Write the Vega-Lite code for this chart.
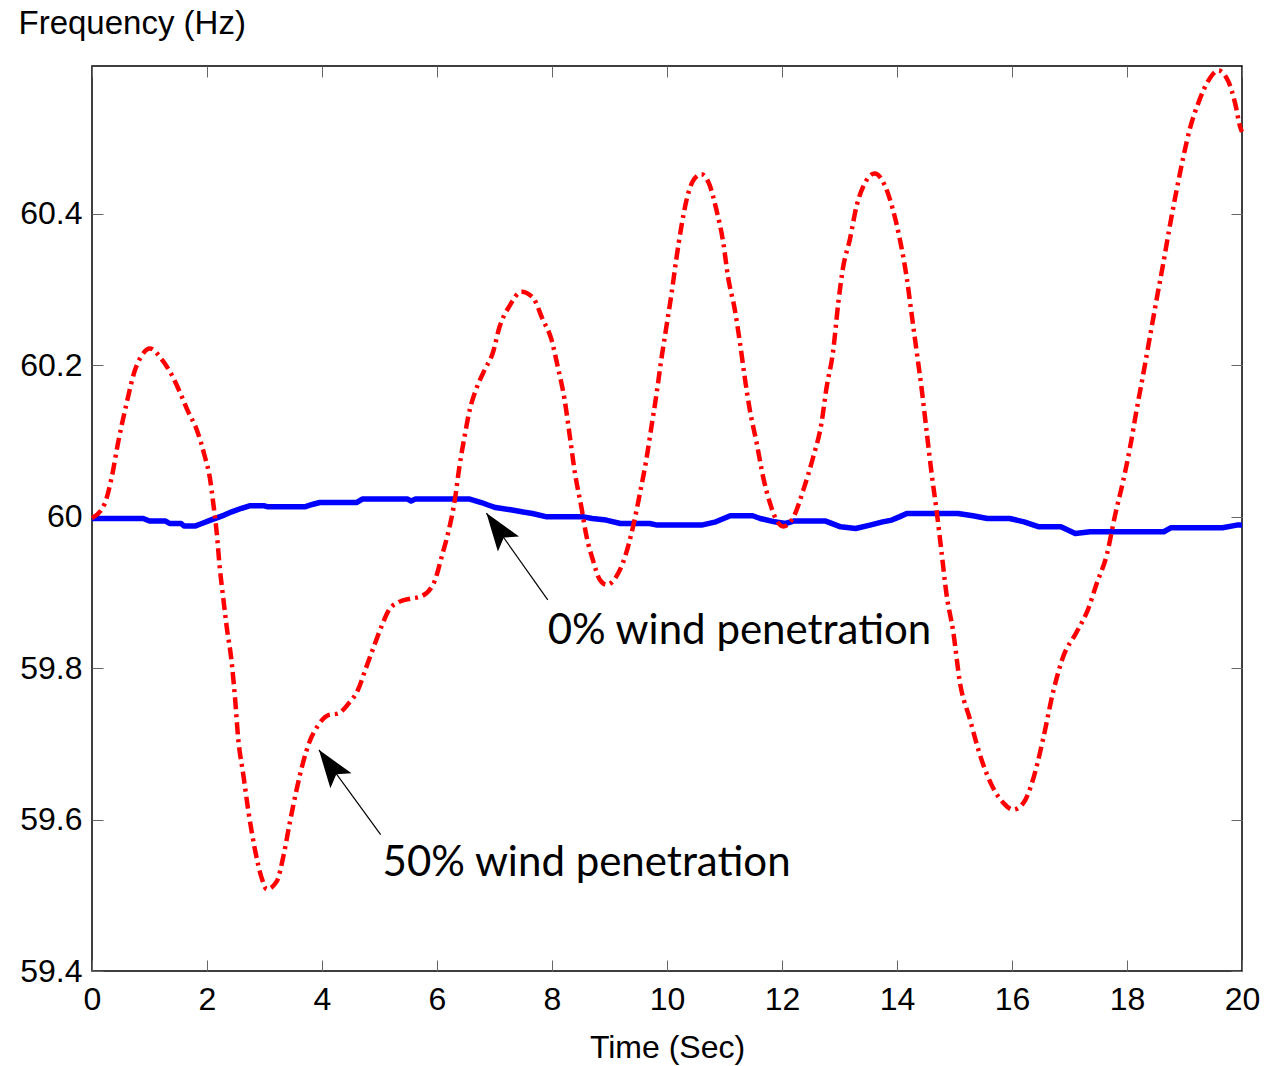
{
  "$schema": "https://vega.github.io/schema/vega-lite/v6.json",
  "width": 1150,
  "height": 905,
  "autosize": {"type": "none"},
  "padding": {"left": 92, "top": 66, "right": 23, "bottom": 95},
  "background": "#ffffff",
  "datasets": {
    "blue": [
      {"t": 0, "v": 59.9975}, {"t": 0.89, "v": 59.9975}, {"t": 1.0, "v": 59.9941}, {"t": 1.28, "v": 59.9941},
      {"t": 1.35, "v": 59.9909}, {"t": 1.55, "v": 59.9909}, {"t": 1.6, "v": 59.9875}, {"t": 1.79, "v": 59.9875},
      {"t": 1.91, "v": 59.9909}, {"t": 2.05, "v": 59.995}, {"t": 2.17, "v": 59.9984}, {"t": 2.3, "v": 60.002},
      {"t": 2.43, "v": 60.0063}, {"t": 2.6, "v": 60.011}, {"t": 2.74, "v": 60.0143}, {"t": 3.0, "v": 60.0143},
      {"t": 3.06, "v": 60.0129}, {"t": 3.7, "v": 60.0129}, {"t": 3.83, "v": 60.016}, {"t": 3.96, "v": 60.0186},
      {"t": 4.6, "v": 60.0186}, {"t": 4.7, "v": 60.0231}, {"t": 5.49, "v": 60.0231}, {"t": 5.55, "v": 60.0205},
      {"t": 5.62, "v": 60.0231}, {"t": 6.57, "v": 60.0231}, {"t": 6.77, "v": 60.0186}, {"t": 6.9, "v": 60.015},
      {"t": 7.02, "v": 60.012}, {"t": 7.28, "v": 60.009}, {"t": 7.5, "v": 60.006}, {"t": 7.66, "v": 60.0041},
      {"t": 7.91, "v": 59.9997}, {"t": 8.55, "v": 59.9997}, {"t": 8.7, "v": 59.9975}, {"t": 8.94, "v": 59.9954},
      {"t": 9.19, "v": 59.9909}, {"t": 9.7, "v": 59.9909}, {"t": 9.83, "v": 59.9888}, {"t": 10.6, "v": 59.9888},
      {"t": 10.85, "v": 59.9931}, {"t": 11.1, "v": 60.0011}, {"t": 11.49, "v": 60.0011}, {"t": 11.62, "v": 59.9975},
      {"t": 11.87, "v": 59.9931}, {"t": 12.06, "v": 59.9909}, {"t": 12.2, "v": 59.9941}, {"t": 12.76, "v": 59.9941},
      {"t": 13.02, "v": 59.9865}, {"t": 13.28, "v": 59.9843}, {"t": 13.53, "v": 59.9888}, {"t": 13.75, "v": 59.993},
      {"t": 13.91, "v": 59.9954}, {"t": 14.05, "v": 60.0}, {"t": 14.17, "v": 60.0041}, {"t": 15.06, "v": 60.0041},
      {"t": 15.32, "v": 60.0011}, {"t": 15.57, "v": 59.9975}, {"t": 15.96, "v": 59.9975}, {"t": 16.21, "v": 59.9931},
      {"t": 16.47, "v": 59.9865}, {"t": 16.85, "v": 59.9865}, {"t": 17.1, "v": 59.9777}, {"t": 17.36, "v": 59.98},
      {"t": 18.64, "v": 59.98}, {"t": 18.76, "v": 59.9852}, {"t": 19.66, "v": 59.9852}, {"t": 19.91, "v": 59.9888},
      {"t": 20, "v": 59.9888}
    ],
    "red": [
      {"t": 0, "v": 59.998}, {"t": 0.22, "v": 60.017}, {"t": 0.34, "v": 60.051}, {"t": 0.46, "v": 60.1},
      {"t": 0.6, "v": 60.149}, {"t": 0.745, "v": 60.193}, {"t": 0.86, "v": 60.212}, {"t": 1.006, "v": 60.222},
      {"t": 1.21, "v": 60.208}, {"t": 1.38, "v": 60.188}, {"t": 1.53, "v": 60.164}, {"t": 1.67, "v": 60.139},
      {"t": 1.82, "v": 60.115}, {"t": 1.96, "v": 60.08}, {"t": 2.05, "v": 60.051}, {"t": 2.11, "v": 60.017},
      {"t": 2.17, "v": 59.978}, {"t": 2.22, "v": 59.934}, {"t": 2.28, "v": 59.894}, {"t": 2.34, "v": 59.856},
      {"t": 2.43, "v": 59.807}, {"t": 2.49, "v": 59.758}, {"t": 2.54, "v": 59.709}, {"t": 2.63, "v": 59.66},
      {"t": 2.72, "v": 59.611}, {"t": 2.83, "v": 59.562}, {"t": 2.95, "v": 59.523}, {"t": 3.04, "v": 59.508},
      {"t": 3.21, "v": 59.518}, {"t": 3.33, "v": 59.552}, {"t": 3.44, "v": 59.596}, {"t": 3.56, "v": 59.64},
      {"t": 3.67, "v": 59.675}, {"t": 3.79, "v": 59.704}, {"t": 3.93, "v": 59.724}, {"t": 4.11, "v": 59.738},
      {"t": 4.28, "v": 59.74}, {"t": 4.46, "v": 59.753}, {"t": 4.63, "v": 59.772}, {"t": 4.75, "v": 59.797},
      {"t": 4.89, "v": 59.826}, {"t": 5.04, "v": 59.856}, {"t": 5.15, "v": 59.875}, {"t": 5.33, "v": 59.887},
      {"t": 5.56, "v": 59.892}, {"t": 5.7, "v": 59.894}, {"t": 5.93, "v": 59.91}, {"t": 6.1, "v": 59.952},
      {"t": 6.22, "v": 59.987}, {"t": 6.31, "v": 60.022}, {"t": 6.39, "v": 60.066}, {"t": 6.48, "v": 60.106},
      {"t": 6.57, "v": 60.141}, {"t": 6.68, "v": 60.168}, {"t": 6.83, "v": 60.194}, {"t": 6.97, "v": 60.216},
      {"t": 7.09, "v": 60.251}, {"t": 7.26, "v": 60.278}, {"t": 7.47, "v": 60.297}, {"t": 7.67, "v": 60.289},
      {"t": 7.84, "v": 60.26}, {"t": 7.99, "v": 60.234}, {"t": 8.1, "v": 60.198}, {"t": 8.22, "v": 60.154},
      {"t": 8.31, "v": 60.106}, {"t": 8.4, "v": 60.057}, {"t": 8.51, "v": 60.013}, {"t": 8.6, "v": 59.974},
      {"t": 8.71, "v": 59.943}, {"t": 8.83, "v": 59.917}, {"t": 8.95, "v": 59.91}, {"t": 9.12, "v": 59.921},
      {"t": 9.27, "v": 59.947}, {"t": 9.41, "v": 59.987}, {"t": 9.53, "v": 60.031}, {"t": 9.64, "v": 60.075},
      {"t": 9.73, "v": 60.119}, {"t": 9.82, "v": 60.163}, {"t": 9.9, "v": 60.207}, {"t": 9.99, "v": 60.251},
      {"t": 10.08, "v": 60.295}, {"t": 10.16, "v": 60.339}, {"t": 10.25, "v": 60.383}, {"t": 10.34, "v": 60.418},
      {"t": 10.45, "v": 60.443}, {"t": 10.6, "v": 60.452}, {"t": 10.74, "v": 60.438}, {"t": 10.86, "v": 60.405},
      {"t": 10.98, "v": 60.361}, {"t": 11.06, "v": 60.317}, {"t": 11.18, "v": 60.273}, {"t": 11.27, "v": 60.229},
      {"t": 11.35, "v": 60.185}, {"t": 11.44, "v": 60.141}, {"t": 11.56, "v": 60.097}, {"t": 11.67, "v": 60.053},
      {"t": 11.79, "v": 60.018}, {"t": 11.9, "v": 59.996}, {"t": 12.02, "v": 59.987}, {"t": 12.19, "v": 59.998},
      {"t": 12.37, "v": 60.035}, {"t": 12.54, "v": 60.078}, {"t": 12.69, "v": 60.125}, {"t": 12.77, "v": 60.168},
      {"t": 12.89, "v": 60.219}, {"t": 12.98, "v": 60.283}, {"t": 13.06, "v": 60.328}, {"t": 13.18, "v": 60.366},
      {"t": 13.3, "v": 60.411}, {"t": 13.44, "v": 60.44}, {"t": 13.61, "v": 60.453}, {"t": 13.79, "v": 60.437},
      {"t": 13.93, "v": 60.405}, {"t": 14.05, "v": 60.366}, {"t": 14.17, "v": 60.315}, {"t": 14.25, "v": 60.27},
      {"t": 14.34, "v": 60.219}, {"t": 14.43, "v": 60.168}, {"t": 14.51, "v": 60.116}, {"t": 14.6, "v": 60.058},
      {"t": 14.69, "v": 60.007}, {"t": 14.77, "v": 59.956}, {"t": 14.86, "v": 59.898}, {"t": 14.98, "v": 59.847},
      {"t": 15.09, "v": 59.783}, {"t": 15.27, "v": 59.732}, {"t": 15.44, "v": 59.686}, {"t": 15.67, "v": 59.642},
      {"t": 15.85, "v": 59.622}, {"t": 16.02, "v": 59.613}, {"t": 16.2, "v": 59.622}, {"t": 16.37, "v": 59.654},
      {"t": 16.54, "v": 59.706}, {"t": 16.72, "v": 59.77}, {"t": 16.89, "v": 59.815}, {"t": 17.12, "v": 59.847},
      {"t": 17.33, "v": 59.879}, {"t": 17.47, "v": 59.911}, {"t": 17.65, "v": 59.95}, {"t": 17.79, "v": 60.001},
      {"t": 17.93, "v": 60.046}, {"t": 18.05, "v": 60.09}, {"t": 18.17, "v": 60.142}, {"t": 18.28, "v": 60.187},
      {"t": 18.4, "v": 60.238}, {"t": 18.52, "v": 60.289}, {"t": 18.63, "v": 60.334}, {"t": 18.75, "v": 60.386},
      {"t": 18.86, "v": 60.43}, {"t": 18.98, "v": 60.475}, {"t": 19.1, "v": 60.514}, {"t": 19.24, "v": 60.546},
      {"t": 19.41, "v": 60.575}, {"t": 19.59, "v": 60.589}, {"t": 19.76, "v": 60.575}, {"t": 19.88, "v": 60.546},
      {"t": 19.97, "v": 60.514}, {"t": 20.0, "v": 60.508}
    ],
    "arrows": [
      {"t": 6.859, "v": 60.0046, "t2": 7.926, "v2": 59.89},
      {"t": 3.946, "v": 59.692, "t2": 5.02, "v2": 59.58}
    ],
    "labels": [
      {"t": 7.925, "v": 59.832, "label": "0% wind penetration"},
      {"t": 5.054, "v": 59.525, "label": "50% wind penetration"}
    ]
  },
  "layer": [
    {
      "data": {"name": "blue"},
      "mark": {"type": "line", "color": "#0000ff", "strokeWidth": 5.5, "strokeJoin": "round"},
      "encoding": {
        "x": {
          "field": "t", "type": "quantitative",
          "scale": {"domain": [0, 20], "nice": false, "zero": false},
          "axis": {
            "orient": "bottom", "values": [0, 2, 4, 6, 8, 10, 12, 14, 16, 18, 20],
            "labelPadding": 24, "title": "Time (Sec)", "titleY": 86, "titleBaseline": "alphabetic"
          }
        },
        "y": {
          "field": "v", "type": "quantitative",
          "scale": {"domain": [59.4, 60.595], "nice": false, "zero": false},
          "axis": {
            "orient": "left", "values": [59.4, 59.6, 59.8, 60, 60.2, 60.4], "format": "~g",
            "labelPadding": 21, "title": "Frequency (Hz)", "titleAngle": 0, "titleAlign": "left",
            "titleBaseline": "alphabetic", "titleX": -74, "titleY": -33, "titleFontSize": 33
          }
        }
      }
    },
    {
      "data": {"name": "red"},
      "mark": {"type": "line", "color": "#ff0000", "strokeWidth": 4.5, "strokeDash": [12, 5, 3, 5], "interpolate": "monotone"},
      "encoding": {
        "x": {
          "field": "t", "type": "quantitative",
          "axis": {"orient": "top", "values": [0, 2, 4, 6, 8, 10, 12, 14, 16, 18, 20], "labels": false, "title": null}
        },
        "y": {
          "field": "v", "type": "quantitative",
          "axis": {"orient": "right", "values": [59.4, 59.6, 59.8, 60, 60.2, 60.4], "labels": false, "title": null}
        }
      }
    },
    {
      "data": {"name": "arrows"},
      "mark": {"type": "rule", "color": "#000000", "strokeWidth": 1.2},
      "encoding": {
        "x": {"field": "t", "type": "quantitative", "axis": null},
        "y": {"field": "v", "type": "quantitative", "axis": null},
        "x2": {"field": "t2"},
        "y2": {"field": "v2"}
      }
    },
    {
      "data": {"name": "arrows"},
      "mark": {
        "type": "point", "filled": true, "color": "#000000", "opacity": 1, "strokeWidth": 0,
        "shape": "M0,0 L-0.342,1 L0,0.79 L0.342,1 Z", "size": 5776, "angle": -35.5
      },
      "encoding": {
        "x": {"field": "t", "type": "quantitative", "axis": null},
        "y": {"field": "v", "type": "quantitative", "axis": null}
      }
    },
    {
      "data": {"name": "labels"},
      "mark": {"type": "text", "font": "Lato", "fontSize": 42, "align": "left", "baseline": "alphabetic", "color": "#000000"},
      "encoding": {
        "x": {"field": "t", "type": "quantitative", "axis": null},
        "y": {"field": "v", "type": "quantitative", "axis": null},
        "text": {"field": "label"}
      }
    }
  ],
  "resolve": {"axis": {"x": "independent", "y": "independent"}},
  "config": {
    "view": {"stroke": "#000000", "strokeWidth": 1.5},
    "axis": {
      "labelFont": "Liberation Sans", "labelFontSize": 32, "labelColor": "#000000",
      "titleFont": "Liberation Sans", "titleFontSize": 32, "titleFontWeight": "normal", "titleColor": "#000000",
      "grid": false, "domain": false, "tickColor": "#666666", "tickWidth": 1, "tickSize": -11,
      "labelFlush": false, "labelOverlap": false
    }
  }
}
